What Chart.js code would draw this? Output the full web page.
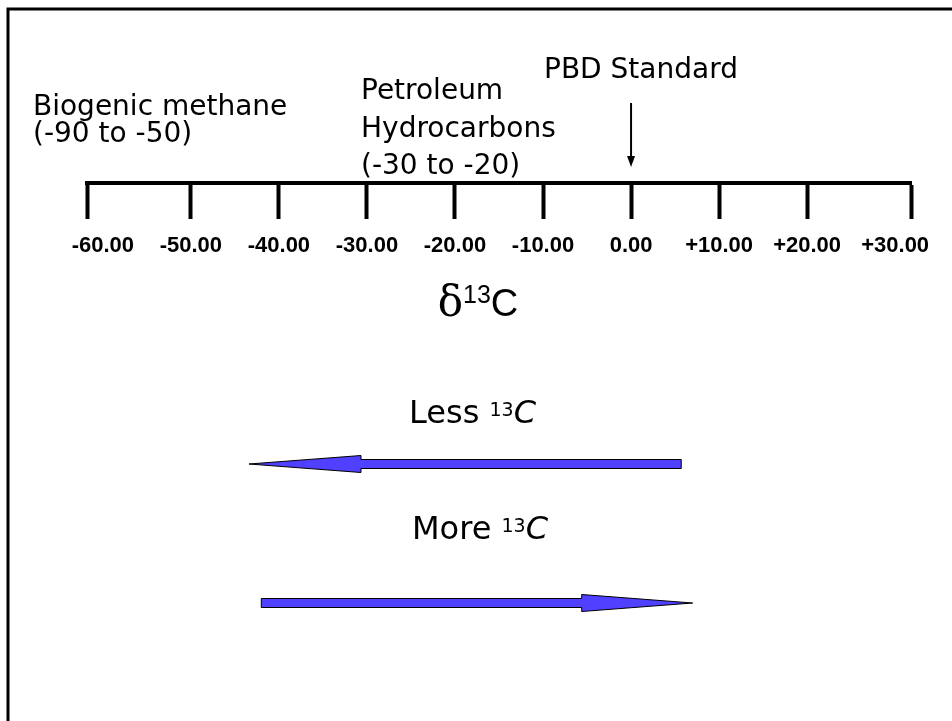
<!DOCTYPE html>
<html>
<head>
<meta charset="utf-8">
<script src="https://cdn.jsdelivr.net/npm/chart.js@4/dist/chart.umd.min.js"></script>
<style>
  html, body { margin: 0; padding: 0; background: #fff; }
  #wrap { width: 952px; height: 721px; }
</style>
</head>
<body>
<div id="wrap"><canvas id="scaleChart"></canvas></div>
<script>
// delta 13C scale
const tickValues = [-60, -50, -40, -30, -20, -10, 0, 10, 20, 30];
const tickLabels = ['-60.00', '-50.00', '-40.00', '-30.00', '-20.00', '-10.00', '0.00', '+10.00', '+20.00', '+30.00'];
const axisMin = -61.8;
const axisMax = 31.8;

// marker for the standard and the two direction arrows (from -> to, in per mil)
const pbdValue = 0;
const lessArrow = [5.7, -43.4];
const moreArrow = [-42.0, 7.0];

const biogenicLines = ['Biogenic methane', '(-90 to -50)'];
const petroleumLines = ['Petroleum', 'Hydrocarbons', '(-30 to -20)'];

// rows on the hidden vertical scale
const axisRow = 18.3;
const lessRow = 46.4;
const moreRow = 60.3;

const TEXT_FONT = '"DejaVu Sans", sans-serif';
const ARROW_BLUE = '#5040ff';

function blockArrow(ctx, x0, x1, yc, shaftHalf, headHalf, headLen) {
    const dir = x1 > x0 ? 1 : -1;
    const hb = x1 - dir * headLen;
    ctx.beginPath();
    ctx.moveTo(x0, yc - shaftHalf);
    ctx.lineTo(hb, yc - shaftHalf);
    ctx.lineTo(hb, yc - headHalf);
    ctx.lineTo(x1, yc);
    ctx.lineTo(hb, yc + headHalf);
    ctx.lineTo(hb, yc + shaftHalf);
    ctx.lineTo(x0, yc + shaftHalf);
    ctx.closePath();
    ctx.fillStyle = ARROW_BLUE;
    ctx.fill();
    ctx.lineWidth = 1;
    ctx.strokeStyle = '#000';
    ctx.stroke();
}

// draws a run of [text, font, rise] parts centred or from a left edge
function drawRuns(ctx, runs, x, y, center) {
    let w = 0;
    runs.forEach(r => { ctx.font = r[1]; w += ctx.measureText(r[0]).width; });
    let cx = center ? x - w / 2 : x;
    runs.forEach(r => {
        ctx.font = r[1];
        ctx.fillText(r[0], cx, y - (r[2] || 0));
        cx += ctx.measureText(r[0]).width;
    });
}

const diagram = {
    id: 'diagram',
    beforeDraw(chart) {
        const ctx = chart.ctx;
        ctx.save();
        ctx.strokeStyle = '#000';
        ctx.lineWidth = 3;
        ctx.strokeRect(8, 9, 1000, 1000);
        ctx.restore();
    },
    afterDraw(chart) {
        const { ctx, scales } = chart;
        const x = scales.x, y = scales.y;
        ctx.save();
        ctx.fillStyle = '#000';
        ctx.textBaseline = 'alphabetic';
        ctx.textAlign = 'left';

        const f = '28px ' + TEXT_FONT;
        biogenicLines.forEach((t, i) => drawRuns(ctx, [[t, f]], 33, [115, 142][i], false));
        petroleumLines.forEach((t, i) => drawRuns(ctx, [[t, f]], 361, [99, 137, 174][i], false));
        drawRuns(ctx, [['PBD Standard', f]], 544, 78, false);

        // standard pointer
        const px = x.getPixelForValue(pbdValue);
        ctx.strokeStyle = '#000';
        ctx.lineWidth = 2;
        ctx.beginPath();
        ctx.moveTo(px, 103);
        ctx.lineTo(px, 158);
        ctx.stroke();
        ctx.beginPath();
        ctx.moveTo(px - 4, 156);
        ctx.lineTo(px + 4, 156);
        ctx.lineTo(px, 167);
        ctx.closePath();
        ctx.fill();

        drawRuns(ctx, [
            ['\u03B4', '42px "DejaVu Serif", serif'],
            ['13', '25px "Liberation Sans", Arial', 13],
            ['C', '38px "Liberation Sans", Arial']
        ], 478, 316, true);

        const big = '32px ' + TEXT_FONT;
        const sup = '19px ' + TEXT_FONT;
        const cIt = 'italic 32px ' + TEXT_FONT;
        drawRuns(ctx, [['Less ', big], ['13', sup, 7], ['C', cIt]], 409, 423, false);
        drawRuns(ctx, [['More ', big], ['13', sup, 7], ['C', cIt]], 412, 539, false);

        blockArrow(ctx, x.getPixelForValue(lessArrow[0]), x.getPixelForValue(lessArrow[1]),
            y.getPixelForValue(lessRow), 4.5, 8.5, 112);
        blockArrow(ctx, x.getPixelForValue(moreArrow[0]), x.getPixelForValue(moreArrow[1]),
            y.getPixelForValue(moreRow), 4.5, 8.5, 111);
        ctx.restore();
    }
};

new Chart(document.getElementById('scaleChart'), {
    type: 'scatter',
    data: { datasets: [] },
    options: {
        responsive: true,
        maintainAspectRatio: false,
        animation: false,
        events: [],
        layout: { padding: { left: 87, right: 41, top: 0, bottom: 0 } },
        plugins: { legend: { display: false }, tooltip: { enabled: false } },
        scales: {
            y: { type: 'linear', display: false, min: 0, max: 72.1, reverse: true },
            x: {
                type: 'linear',
                min: axisMin,
                max: axisMax,
                position: { y: axisRow },
                border: { display: true, width: 4, color: '#000' },
                grid: { display: true, drawOnChartArea: false, drawTicks: true, tickLength: 34, tickWidth: 4, tickColor: '#000' },
                ticks: { display: false },
                // end marks sit on the ends of the axis line
                afterBuildTicks: axis => {
                    axis.ticks = tickValues.map((v, i) => ({
                        value: i === 0 ? axis.min : (i === tickValues.length - 1 ? axis.max : v)
                    }));
                }
            },
            xLabels: {
                type: 'linear',
                axis: 'x',
                min: axisMin,
                max: axisMax,
                position: { y: axisRow },
                border: { display: false },
                grid: { display: false, drawTicks: false },
                ticks: {
                    color: '#000',
                    padding: 50,
                    autoSkip: false,
                    maxRotation: 0,
                    font: { family: '"Liberation Sans", Arial, sans-serif', size: 22, weight: 'bold' },
                    callback: (v, i) => tickLabels[i]
                },
                afterBuildTicks: axis => {
                    axis.ticks = tickValues.map(v => ({ value: v }));
                },
                // labels may hang past the axis ends, as in the original
                afterFit: axis => {
                    axis.paddingLeft = 0;
                    axis.paddingRight = 0;
                }
            }
        }
    },
    plugins: [diagram]
});
</script>
</body>
</html>
